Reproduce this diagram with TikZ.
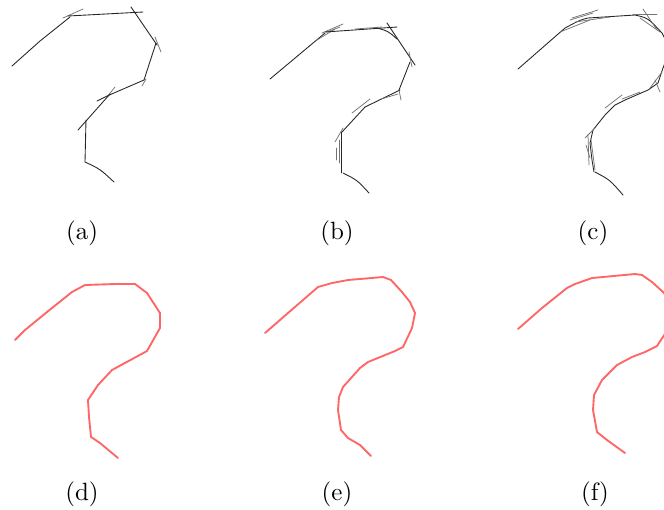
\documentclass[tikz,border=0pt]{standalone}
\usepackage{tikz}

\begin{document}
\begin{tikzpicture}[x=0.4pt, y=-0.4pt]

\tikzset{sketch/.style={draw=black!85, line width=0.35pt, line cap=round}}
\tikzset{faint/.style={draw=black!55, line width=0.3pt, line cap=round}}
\tikzset{fitted/.style={draw=red!60!white, line width=0.75pt, line join=round, line cap=round}}
\tikzset{caption/.style={text=black, font=\normalsize}}

\useasboundingbox (0,0) rectangle (664,509);
\clip (0,0) rectangle (664,509);

% (a) raw strokes
\draw[sketch] (12,66) -- (40,41) -- (70,17);
\draw[faint] (63,18) -- (83,9);
\draw[sketch] (68,16) -- (143,12);
\draw[sketch] (131,7) -- (157,45);
\draw[faint] (155,37) -- (161,52);
\draw[sketch] (156,43) -- (144,80);
\draw[faint] (142,86) -- (146,79);
\draw[sketch] (144,80) -- (107,96) -- (97,101);
\draw[faint] (115,87) -- (107,97);
\draw[sketch] (110,94) -- (78,130);
\draw[sketch] (86,120) -- (85,162);
\draw[sketch] (85,162) .. controls (100,169) .. (114,182);

% (b) raw strokes
\draw[sketch] (270,79) -- (325,33);
\draw[faint] (322,33) -- (343,24);
\draw[faint] (327,32) -- (340,27);
\draw[faint] (317,40) -- (335,29);
\draw[sketch] (325,32) -- (397,27);
\draw[faint] (355,29) -- (382,27);
\draw[sketch] (377,28) .. controls (388,31) .. (397,39);
\draw[sketch] (387,23) -- (415,65);
\draw[faint] (409,52) -- (412,67);
\draw[sketch] (410,62) -- (399,90);
\draw[faint] (399,90) -- (401,100);
\draw[sketch] (400,90) -- (365,107);
\draw[faint] (398,94) -- (381,99);
\draw[faint] (370,99) -- (352,113);
\draw[sketch] (365,107) -- (342,132);
\draw[faint] (343,128) -- (335,142);
\draw[sketch] (341,132) -- (341,173);
\draw[faint] (339,140) -- (339,163);
\draw[faint] (336,148) -- (336,160);
\draw[sketch] (343,173) .. controls (357,180) .. (369,193);

% (c) raw strokes
\draw[sketch] (518,69) -- (565,28) .. controls (580,20) .. (588,18) -- (635,15)
  .. controls (648,18) .. (662,33) -- (668,45);
\draw[faint] (572,18) -- (598,10);
\draw[faint] (570,20) -- (593,13);
\draw[faint] (560,32) -- (590,20);
\draw[faint] (575,22) -- (610,17);
\draw[faint] (643,9) -- (657,30);
\draw[faint] (633,14) -- (657,14);
\draw[faint] (640,18) -- (660,32);
\draw[sketch] (668,55) -- (663,68) -- (658,83) -- (648,90) -- (625,100)
  -- (615,105) -- (605,115) -- (593,130) -- (590,143) -- (592,160) -- (594,172);
\draw[faint] (655,80) -- (660,92);
\draw[faint] (662,72) -- (650,88);
\draw[faint] (640,92) -- (622,99);
\draw[faint] (622,95) -- (605,108);
\draw[faint] (595,128) -- (585,138);
\draw[faint] (588,135) -- (589,165);
\draw[faint] (591,140) -- (595,170);
\draw[faint] (586,145) -- (590,158);
\draw[sketch] (595,172) .. controls (610,180) .. (623,195);

% (d) fitted curve
\draw[fitted] (15,340) -- (25,330) -- (47,312) -- (72,292) -- (85,285) -- (115,284)
  -- (135,284) -- (147,293) -- (160,313) -- (160,328) -- (147,351) -- (112,370)
  -- (98,385) -- (88,400) -- (89,417) -- (91,437) -- (100,443) -- (118,458);

% (e) fitted curve
\draw[fitted] (265,333) -- (288,313) -- (318,287) -- (332,283) -- (348,280) -- (383,277)
  -- (391,280) -- (402,292) -- (410,302) -- (415,313) -- (412,328) -- (403,347)
  -- (395,351) -- (368,362) -- (360,368) -- (343,387) -- (339,397) -- (338,410)
  -- (341,430) -- (348,438) -- (360,445) -- (371,456);

% (f) fitted curve
\draw[fitted] (518,329) -- (542,308) -- (567,288) -- (575,284) -- (592,278) -- (635,274)
  -- (642,275) -- (652,282) -- (663,292) -- (670,300);
\draw[fitted] (670,325) -- (663,337) -- (657,346) -- (645,352) -- (632,357) -- (617,365)
  -- (602,380) -- (594,395) -- (593,410) -- (597,432) -- (607,440) -- (625,453);

% captions
\node[caption] (la) at (82,233) {(a)};
\node[caption] (lb) at (337,233) {(b)};
\node[caption] (lc) at (593,233) {(c)};
\node[caption] (ld) at (82,494) {(d)};
\node[caption] (le) at (337,494) {(e)};
\node[caption] (lf) at (595,494) {(f)};

\end{tikzpicture}
\end{document}
